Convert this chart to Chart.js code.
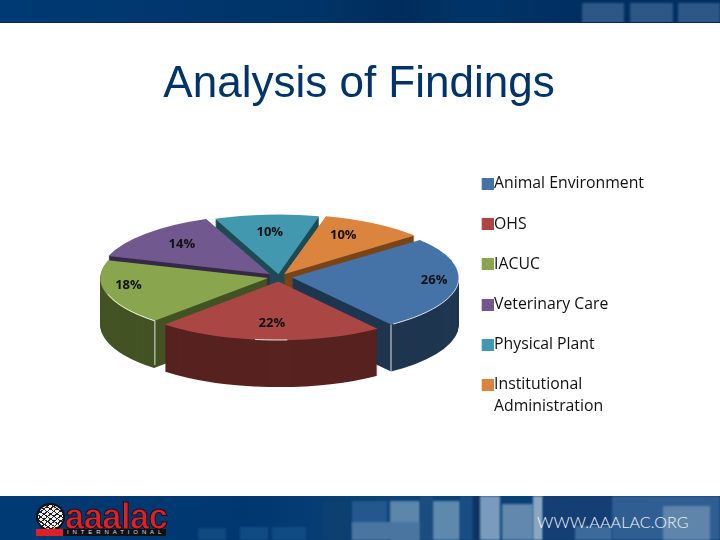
<!DOCTYPE html>
<html>
<head>
<meta charset="utf-8">
<title>Analysis of Findings</title>
<script src="https://cdn.jsdelivr.net/npm/chart.js@4/dist/chart.umd.min.js"></script>
<style>
  html, body { margin: 0; padding: 0; background: #fff; }
  #slide { position: relative; width: 720px; height: 540px; overflow: hidden; }
  #slide canvas { position: absolute; left: 0; top: 0; }
  .band { position: absolute; left: 0; width: 720px; background: #003670; overflow: hidden; }
  #topBand { top: 0; height: 23px; border-bottom: 1px solid #0b2a48; box-sizing: border-box;
    background: linear-gradient(90deg, #003a74 0, #003468 310px, #002c5c 400px, #003468 470px, #002f62 580px); }
  #bottomBand { top: 496px; height: 44px;
    background: linear-gradient(90deg, #003a74 0, #00376f 250px, #0d4478 400px, #003a70 720px); }
  .tile { position: absolute; filter: blur(1px); }
  #globe { position: absolute; left: 36px; top: 7px; width: 29px; height: 28px; border-radius: 50%;
    border: 2px solid #111; box-sizing: border-box;
    background: repeating-linear-gradient(35deg, transparent 0 3px, #222 3px 4px),
      repeating-linear-gradient(-40deg, #eee 0 3px, #222 3px 4px); }
  #redbar { position: absolute; left: 36px; top: 33px; width: 27px; height: 7px; background: #e01f26; }
  #strip { position: absolute; left: 63px; top: 33px; width: 103px; height: 7px; background: #111; }
  #brand { position: absolute; left: 65px; top: 2px; font: 700 37px/37px "Liberation Sans", sans-serif;
    color: #e01f26; -webkit-text-stroke: 1px #111; transform: scaleX(0.93); transform-origin: left top; letter-spacing: -0.5px; }
  #intl { position: absolute; left: 67px; top: 33px; font: 6px/7px "Liberation Sans", sans-serif;
    letter-spacing: 3.9px; color: #dde; }
  #url { position: absolute; left: 537px; top: 16px; font: 300 16px/20px Lato, "Open Sans", sans-serif;
    letter-spacing: 0.15px; color: #f2f5f8; }
</style>
</head>
<body>
<div id="slide">
  <div class="band" id="topBand">
    <div class="tile" style="left:582px;top:3px;width:42px;height:20px;background:#2c5786"></div>
    <div class="tile" style="left:630px;top:3px;width:43px;height:20px;background:#2c5786"></div>
    <div class="tile" style="left:678px;top:3px;width:42px;height:20px;background:#2c5786"></div>
  </div>
  <div class="band" id="bottomBand">
    <div class="tile" style="left:198px;top:32px;width:28px;height:12px;background:#0f4a80"></div>
    <div class="tile" style="left:240px;top:31px;width:28px;height:13px;background:#104c83"></div>
    <div class="tile" style="left:272px;top:31px;width:34px;height:13px;background:#104c83"></div>
    <div class="tile" style="left:323px;top:5px;width:27px;height:39px;background:#0d4070"></div>
    <div class="tile" style="left:352px;top:5px;width:35px;height:39px;background:#24588c"></div>
    <div class="tile" style="left:390px;top:5px;width:30px;height:39px;background:#5d86ad"></div>
    <div class="tile" style="left:352px;top:26px;width:68px;height:18px;background:#4a75a0"></div>
    <div class="tile" style="left:420px;top:0;width:13px;height:44px;background:#1b4d80"></div>
    <div class="tile" style="left:433px;top:5px;width:27px;height:39px;background:#5f88ae"></div>
    <div class="tile" style="left:460px;top:0;width:13px;height:44px;background:#1a4d84"></div>
    <div class="tile" style="left:473px;top:0;width:7px;height:44px;background:#10335e"></div>
    <div class="tile" style="left:480px;top:0;width:20px;height:44px;background:#7a9bbb"></div>
    <div class="tile" style="left:502px;top:8px;width:31px;height:36px;background:#6288ad"></div>
    <div class="tile" style="left:533px;top:0;width:10px;height:44px;background:#8aa6c2"></div>
    <div class="tile" style="left:543px;top:0;width:69px;height:44px;background:#143e74"></div>
    <div class="tile" style="left:575px;top:30px;width:37px;height:14px;background:#3c6a9a"></div>
    <div class="tile" style="left:612px;top:0;width:108px;height:44px;background:#2f5e92"></div>
    <div class="tile" style="left:663px;top:10px;width:47px;height:34px;background:#5f85ab"></div>
    <div id="globe"></div>
    <div id="redbar"></div>
    <div id="strip"></div>
    <div id="brand">aaalac</div>
    <div id="intl">INTERNATIONAL</div>
    <div id="url">WWW.AAALAC.ORG</div>
  </div>
  <canvas id="pieChart" width="720" height="540"></canvas>
</div>
<script>
const categories = ['Animal Environment', 'OHS', 'IACUC', 'Veterinary Care', 'Physical Plant', ['Institutional', 'Administration']];
const shares = [26, 22, 18, 14, 10, 10];
const topColors = ['#4572A7', '#AA4643', '#89A54E', '#71588F', '#4198AF', '#DB843D'];
const sideColors = ['#1F3650', '#572220', '#435324', '#362A45', '#1F4A55', '#7A4518'];

// how far each slice is pulled out, and where its label sits relative to the slice
const pullOut = [52, 52, 44, 48, 32, 38];
const labelFit = [0.93, 0.77, 0.91, 0.82, 0.79, 0.82];
const labelTurn = [-4, 0, 7, 2, 0, -4];

const squash = 0.35;
const depth = 47;
const centerX = 279;
const centerY = 277;
const paintOrder = [4, 3, 5, 2, 0, 1];

class Pie3dController extends Chart.PieController {
  draw() {
    const ctx = this.chart.ctx;
    const arcs = this._cachedMeta.data;
    const area = this.chart.chartArea;

    const faceTransform = function(arc, drop) {
      ctx.setTransform(1, 0, 0, squash, centerX, centerY + drop);
      ctx.translate(-arc.x, -arc.y);
    };

    // screen position of the rim at an angle, with the pull-out of that slice
    const rimPoint = function(arc, angle) {
      const mid = (arc.startAngle + arc.endAngle) / 2;
      const shift = arc.options.offset / 4;
      return {
        x: centerX + Math.cos(mid) * shift + Math.cos(angle) * arc.outerRadius,
        y: centerY + (Math.sin(mid) * shift + Math.sin(angle) * arc.outerRadius) * squash,
      };
    };

    ctx.save();
    paintOrder.forEach(i => {
      const arc = arcs[i];
      const top = arc.options;
      arc.options = Object.assign({}, top, {backgroundColor: sideColors[i], borderColor: sideColors[i]});
      for (let d = depth; d > 0; d--) {
        faceTransform(arc, d);
        arc.draw(ctx, area);
      }
      arc.options = top;
      faceTransform(arc, 0);
      arc.draw(ctx, area);
    });
    ctx.restore();

    // the thin white highlights on the front rim and wall corners
    ctx.save();
    ctx.strokeStyle = 'rgba(255,255,255,0.85)';
    ctx.lineWidth = 1;
    [arcs[0].endAngle, arcs[2].startAngle].forEach((angle, n) => {
      const p = rimPoint(arcs[n * 2], angle);
      ctx.beginPath();
      ctx.moveTo(p.x, p.y);
      ctx.lineTo(p.x, p.y + depth - (n ? 3 : 0));
      ctx.stroke();
    });
    [[0, 0.25, 1], [1, 0.42, 0.58], [2, 0, 0.5]].forEach(([i, from, to]) => {
      const arc = arcs[i];
      const span = arc.endAngle - arc.startAngle;
      ctx.beginPath();
      for (let t = from; t <= to; t += 0.02) {
        const p = rimPoint(arc, arc.startAngle + span * t);
        ctx.lineTo(p.x, p.y);
      }
      ctx.stroke();
    });
    ctx.restore();

    // percent labels go on the flattened faces
    ctx.save();
    ctx.font = 'bold 13px "Open Sans", sans-serif';
    ctx.fillStyle = '#111';
    ctx.textAlign = 'center';
    ctx.textBaseline = 'middle';
    arcs.forEach((arc, i) => {
      const mid = (arc.startAngle + arc.endAngle) / 2 + labelTurn[i] * Math.PI / 180;
      const r = arc.outerRadius * labelFit[i];
      ctx.fillText(shares[i] + '%', centerX + Math.cos(mid) * r, centerY + 1 + Math.sin(mid) * r * squash);
    });
    ctx.restore();
  }
}
Pie3dController.id = 'pie3d';
Pie3dController.defaults = Chart.PieController.defaults;
Pie3dController.overrides = Chart.PieController.overrides;
Chart.register(Pie3dController);

// legend swatch sits almost against the text, closer than the legend itself allows
const swatch = function(color) {
  const c = document.createElement('canvas');
  c.width = 16;
  c.height = 12;
  const g = c.getContext('2d');
  g.fillStyle = color;
  g.fillRect(4, 0, 12, 12);
  return c;
};
const swatches = topColors.map(swatch);

const slideLayout = {
  id: 'slideLayout',
  afterLayout(chart) {
    chart.titleBlock.left -= 11;
    chart.titleBlock.right -= 11;
    chart.legend.left += 1;
    chart.legend.right += 1;
    chart.legend.top += 58.5;
    chart.legend.bottom += 58.5;
  },
};

new Chart(document.getElementById('pieChart'), {
  type: 'pie3d',
  data: {
    labels: categories,
    datasets: [{
      data: shares,
      backgroundColor: topColors,
      borderWidth: 0,
      offset: pullOut,
    }],
  },
  plugins: [slideLayout],
  options: {
    responsive: false,
    animation: false,
    rotation: 50,
    radius: 167,
    layout: {
      padding: {left: 87, right: 67, top: 0, bottom: 60},
    },
    plugins: {
      tooltip: {enabled: false},
      title: {
        display: true,
        text: 'Analysis of Findings',
        color: '#00336B',
        font: {family: '"Liberation Sans", Arial, sans-serif', size: 44, weight: 'normal'},
        padding: {top: 58, bottom: 6},
      },
      legend: {
        position: 'right',
        align: 'center',
        labels: {
          usePointStyle: true,
          pointStyleWidth: 1,
          boxHeight: 12,
          color: '#111',
          padding: 24.4,
          font: {family: '"Open Sans", sans-serif', size: 15.8, lineHeight: 1.39},
          generateLabels: function(chart) {
            const items = Chart.PieController.overrides.plugins.legend.labels.generateLabels(chart);
            items.forEach((item, i) => { item.pointStyle = swatches[i]; });
            return items;
          },
        },
      },
    },
  },
});
</script>
</body>
</html>
